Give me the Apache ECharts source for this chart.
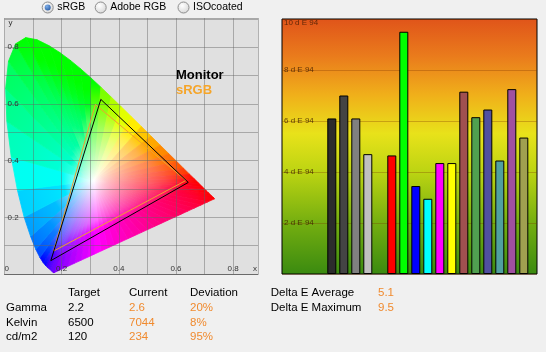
<!DOCTYPE html>
<html>
<head>
<meta charset="utf-8">
<script src="https://cdn.jsdelivr.net/npm/echarts@6/dist/echarts.min.js"></script>
<style>
  html, body { margin: 0; background: #f0f0f0; }
  #chart { width: 546px; height: 352px; }
</style>
</head>
<body>
<div id="chart"></div>
<script>
// CIE 1931 spectral locus (380 - 700 nm)
const locus = [
  [0.1741, 0.0050], [0.1740, 0.0050], [0.1738, 0.0049], [0.1736, 0.0049], [0.1733, 0.0048],
  [0.1730, 0.0048], [0.1726, 0.0048], [0.1721, 0.0048], [0.1714, 0.0051], [0.1703, 0.0058],
  [0.1689, 0.0069], [0.1669, 0.0086], [0.1644, 0.0109], [0.1611, 0.0138], [0.1566, 0.0177],
  [0.1510, 0.0227], [0.1440, 0.0297], [0.1355, 0.0399], [0.1241, 0.0578], [0.1096, 0.0868],
  [0.0913, 0.1327], [0.0687, 0.2007], [0.0454, 0.2950], [0.0235, 0.4127], [0.0082, 0.5384],
  [0.0039, 0.6548], [0.0139, 0.7502], [0.0389, 0.8120], [0.0743, 0.8338], [0.1142, 0.8262],
  [0.1547, 0.8059], [0.1929, 0.7816], [0.2296, 0.7543], [0.2658, 0.7243], [0.3016, 0.6923],
  [0.3373, 0.6589], [0.3731, 0.6245], [0.4087, 0.5896], [0.4441, 0.5547], [0.4788, 0.5202],
  [0.5125, 0.4866], [0.5448, 0.4544], [0.5752, 0.4242], [0.6029, 0.3965], [0.6270, 0.3725],
  [0.6482, 0.3514], [0.6658, 0.3340], [0.6801, 0.3197], [0.6915, 0.3083], [0.7006, 0.2993],
  [0.7079, 0.2920], [0.7140, 0.2859], [0.7190, 0.2809], [0.7230, 0.2770], [0.7260, 0.2740],
  [0.7283, 0.2717], [0.7300, 0.2700], [0.7311, 0.2689], [0.7320, 0.2680], [0.7334, 0.2666],
  [0.7347, 0.2653]
];
const whitePoint = [0.3127, 0.3290];

// gamut triangles (G, R, B)
const monitorGamut = [[0.337, 0.616], [0.643, 0.323], [0.162, 0.047]];
const srgbGamut = [[0.318, 0.598], [0.635, 0.330], [0.172, 0.081]];

// delta E 94 per patch
const patchNames = ['Gray 1', 'Gray 2', 'Gray 3', 'Gray 4', '', 'Red', 'Green', 'Blue', 'Cyan', 'Magenta', 'Yellow',
  'Red 2', 'Green 2', 'Blue 2', 'Cyan 2', 'Magenta 2', 'Yellow 2'];
const deltaE = [6.1, 7.0, 6.1, 4.7, null, 4.65, 9.5, 3.45, 2.95, 4.35, 4.35, 7.15, 6.15, 6.45, 4.45, 7.25, 5.35];
const barColors = ['#2c2c2c', '#444444', '#808080', '#c0c0c0', '#000', '#ff0000', '#00ff00', '#0000ff', '#00ffff',
  '#ff00ff', '#ffff00', '#a05050', '#50a050', '#5050a0', '#50a0a0', '#a050a0', '#a0a050'];

// table below
const colHeaders = ['Target', 'Current', 'Deviation'];
const rowNames = ['Gamma', 'Kelvin', 'cd/m2'];
const targets = ['2.2', '6500', '120'];
const currents = ['2.6', '7044', '234'];
const deviations = ['20%', '8%', '95%'];
const summaryNames = ['Delta E Average', 'Delta E Maximum'];
const summaryValues = ['5.1', '9.5'];
const radioOptions = ['sRGB', 'Adobe RGB', 'ISOcoated'];

const FONT = 'Liberation Sans, Arial, sans-serif';
const ORANGE = '#f08a2e';

// xy chromaticity -> display colour (clipped, max normalised)
const xyToColor = (x, y) => {
  const X = x / y, Z = (1 - x - y) / y;
  const r = Math.max(0, 3.2406 * X - 1.5372 - 0.4986 * Z);
  const g = Math.max(0, -0.9689 * X + 1.8758 + 0.0415 * Z);
  const b = Math.max(0, 0.0557 * X - 0.2040 + 1.0570 * Z);
  const m = Math.max(r, g, b);
  const enc = c => {
    c = c / m;
    c = c <= 0.0031308 ? 12.92 * c : 1.055 * Math.pow(c, 1 / 2.4) - 0.055;
    return Math.round(255 * Math.min(1, c));
  };
  return `rgb(${enc(r)},${enc(g)},${enc(b)})`;
};

const renderLocus = (params, api) => {
  // outline: spectral locus + purple line split up for colouring
  const ring = locus.slice();
  const a = locus[locus.length - 1], b = locus[0];
  const steps = 24;
  for (let k = 1; k < steps; k++) {
    const t = k / steps;
    ring.push([a[0] + (b[0] - a[0]) * t, a[1] + (b[1] - a[1]) * t]);
  }
  const c = api.coord(whitePoint);
  const children = [];
  for (let i = 0; i < ring.length; i++) {
    const p1 = ring[i], p2 = ring[(i + 1) % ring.length];
    const mid = [(p1[0] + p2[0]) / 2, (p1[1] + p2[1]) / 2];
    const mp = api.coord(mid);
    const stops = [0, 0.12, 0.25, 0.4, 0.55, 0.7, 0.85, 1].map(t => ({
      offset: t,
      color: xyToColor(whitePoint[0] + (mid[0] - whitePoint[0]) * t, whitePoint[1] + (mid[1] - whitePoint[1]) * t)
    }));
    const grad = new echarts.graphic.LinearGradient(c[0], c[1], mp[0], mp[1], stops, true);
    children.push({
      type: 'polygon',
      shape: { points: [c, api.coord(p1), api.coord(p2)] },
      style: { fill: grad, stroke: grad, lineWidth: 0.8 }
    });
  }
  return { type: 'group', children };
};

const tenths = v => Math.round(v * 10);
const cieLabel = v => (tenths(v) % 2 === 0 ? (tenths(v) === 0 ? '0' : (tenths(v) / 10).toFixed(1)) : '');

// graphic: radio buttons, legend texts, table
const graphic = [];
const radioX = [47.7, 100.7, 183.5];
radioOptions.forEach((name, i) => {
  graphic.push({
    type: 'circle', shape: { cx: radioX[i], cy: 7.5, r: 5.5 },
    style: {
      fill: new echarts.graphic.RadialGradient(0.4, 0.35, 0.8, [
        { offset: 0, color: '#ffffff' }, { offset: 1, color: '#cfcfcf' }]),
      stroke: '#8c8c8c', lineWidth: 1
    }
  });
  if (i === 0) {
    graphic.push({
      type: 'circle', shape: { cx: radioX[i], cy: 7.5, r: 3 },
      style: {
        fill: new echarts.graphic.RadialGradient(0.35, 0.3, 0.9, [
          { offset: 0, color: '#7fb0ea' }, { offset: 1, color: '#1d4f9a' }])
      }
    });
  }
  graphic.push({
    type: 'text', x: radioX[i] + 9.5, y: 7.5,
    style: { text: name, font: `10.5px ${FONT}`, fill: '#000', verticalAlign: 'middle' }
  });
});
graphic.push({
  type: 'text', x: 176, y: 75.3, z: 20,
  style: { text: 'Monitor', font: `bold 13px ${FONT}`, fill: '#000', verticalAlign: 'middle' }
});
graphic.push({
  type: 'text', x: 176, y: 90.7, z: 20,
  style: { text: 'sRGB', font: `bold 13px ${FONT}`, fill: '#f5a52a', verticalAlign: 'middle' }
});

const colX = [6, 68, 129, 190];
const rowY = [292.7, 307.7, 322.7, 337.3];
const addText = (text, x, y, color) => graphic.push({
  type: 'text', x, y,
  style: { text, font: `11.5px ${FONT}`, fill: color, verticalAlign: 'middle' }
});
colHeaders.forEach((h, i) => addText(h, colX[i + 1], rowY[0], '#000'));
rowNames.forEach((n, r) => {
  addText(n, colX[0], rowY[r + 1], '#000');
  addText(targets[r], colX[1], rowY[r + 1], '#000');
  addText(currents[r], colX[2], rowY[r + 1], ORANGE);
  addText(deviations[r], colX[3], rowY[r + 1], ORANGE);
});
summaryNames.forEach((n, i) => {
  addText(n, 270.7, rowY[i], '#000');
  addText(summaryValues[i], 378, rowY[i], ORANGE);
});

const chart = echarts.init(document.getElementById('chart'));

const option = {
  animation: false,
  textStyle: { fontFamily: FONT },
  grid: [
    { left: 4.5, top: 18, width: 253.5, height: 256, show: true, backgroundColor: '#e0e0e0', borderWidth: 0 },
    {
      left: 282, top: 19, width: 255, height: 255, show: true, borderColor: '#000', borderWidth: 1,
      backgroundColor: {
        type: 'linear', x: 0, y: 0, x2: 0, y2: 1,
        colorStops: [
          { offset: 0, color: '#e0541a' },
          { offset: 0.15, color: '#ea7c1c' },
          { offset: 0.3, color: '#f0b01a' },
          { offset: 0.45, color: '#e8e21a' },
          { offset: 0.6, color: '#bcd412' },
          { offset: 0.8, color: '#74ae10' },
          { offset: 1, color: '#3a8a10' }
        ]
      }
    },
    { left: 325.8, top: 19, width: 204, height: 255 }
  ],
  xAxis: [
    {
      gridIndex: 0, type: 'value', min: 0, max: 0.887, interval: 0.1, z: 5,
      name: 'x', nameLocation: 'end', nameGap: -1,
      nameTextStyle: { color: '#333', fontSize: 8, align: 'right', verticalAlign: 'bottom', padding: [0, 0, 1, 0] },
      axisLine: { show: true, lineStyle: { color: '#6a6a6a', width: 1 } },
      axisTick: { show: false },
      axisLabel: { inside: true, margin: 1, fontSize: 8, color: '#333', formatter: cieLabel, alignMinLabel: 'left' },
      splitLine: { show: true, lineStyle: { color: 'rgba(100,100,100,0.45)', width: 1 } }
    },
    { gridIndex: 1, type: 'value', min: 0, max: 1, show: false },
    { gridIndex: 2, type: 'category', data: patchNames, show: false }
  ],
  yAxis: [
    {
      gridIndex: 0, type: 'value', min: 0, max: 0.903, interval: 0.1, z: 5,
      name: 'y', nameLocation: 'end', nameGap: -1,
      nameTextStyle: { color: '#333', fontSize: 8, align: 'left', verticalAlign: 'top', padding: [0, 0, 0, 4] },
      axisLine: { show: false },
      axisTick: { show: false },
      axisLabel: { inside: true, margin: 3, fontSize: 8, color: '#333', formatter: cieLabel, showMinLabel: false },
      splitLine: { show: true, lineStyle: { color: 'rgba(100,100,100,0.45)', width: 1 } }
    },
    {
      gridIndex: 1, type: 'value', min: 0, max: 10, interval: 2, z: 1,
      axisLine: { show: false },
      axisTick: { show: false },
      axisLabel: {
        inside: true, margin: 2, fontSize: 8, color: 'rgba(60,25,0,0.8)',
        formatter: v => `${v} d E 94`, showMinLabel: false, verticalAlignMaxLabel: 'top'
      },
      splitLine: { show: true, lineStyle: { color: 'rgba(120,50,0,0.3)', width: 1 } }
    },
    { gridIndex: 2, type: 'value', min: 0, max: 10, show: false }
  ],
  graphic,
  series: [
    {
      type: 'custom', xAxisIndex: 0, yAxisIndex: 0, silent: true, clip: true, z: 2,
      data: [whitePoint], renderItem: renderLocus
    },
    {
      type: 'line', name: 'sRGB', xAxisIndex: 0, yAxisIndex: 0, z: 9, symbol: 'none', silent: true,
      data: srgbGamut.concat([srgbGamut[0]]), lineStyle: { color: '#f0a030', width: 1 }
    },
    {
      type: 'line', name: 'Monitor', xAxisIndex: 0, yAxisIndex: 0, z: 10, symbol: 'none', silent: true,
      data: monitorGamut.concat([monitorGamut[0]]), lineStyle: { color: '#000', width: 1 }
    },
    {
      type: 'bar', xAxisIndex: 2, yAxisIndex: 2, barWidth: 9, z: 3, silent: true,
      data: deltaE.map((v, i) => ({ value: v === null ? '-' : v, itemStyle: { color: barColors[i] } })),
      itemStyle: { borderColor: '#000', borderWidth: 1 }
    }
  ]
};

chart.setOption(option);
</script>
</body>
</html>
